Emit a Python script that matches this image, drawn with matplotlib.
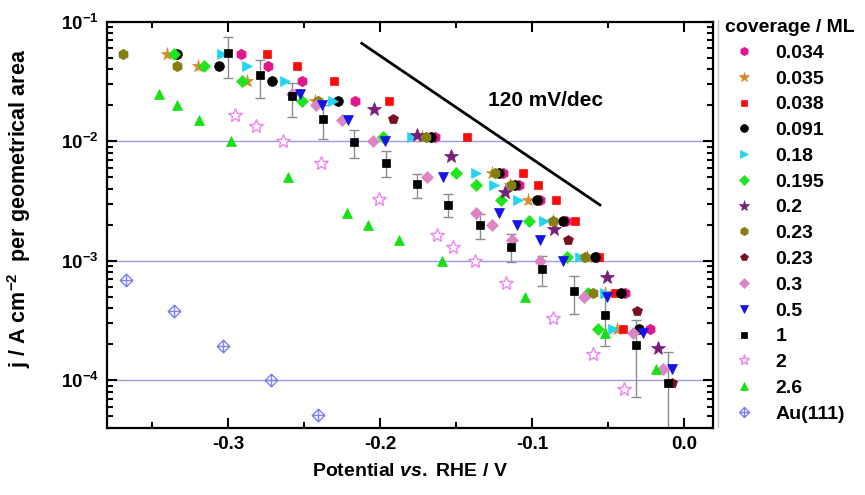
import numpy as np
import matplotlib
matplotlib.use('Agg')
import matplotlib.pyplot as plt
from matplotlib.path import Path
from matplotlib.lines import Line2D
from matplotlib.ticker import FixedLocator, LogLocator, NullFormatter, LogFormatterMathtext

plt.rcParams['font.family'] = ['Liberation Sans', 'DejaVu Sans']
plt.rcParams['font.weight'] = 'bold'
plt.rcParams['mathtext.fontset'] = 'custom'
plt.rcParams['mathtext.rm'] = 'Liberation Sans:bold'
plt.rcParams['mathtext.bf'] = 'Liberation Sans:bold'
plt.rcParams['mathtext.it'] = 'Liberation Sans:italic:bold'
plt.rcParams['mathtext.default'] = 'bf'

# ---------------- data (potential V vs RHE, current density A/cm2) ----------------
v_0034 = [-0.2916, -0.2735, -0.2511, -0.2164, -0.1638, -0.1189, -0.1084, -0.0947, -0.0776, -0.0572, -0.0388, -0.0224]
j_0034 = [0.054, 0.043, 0.032, 0.0216, 0.0108, 0.0054, 0.0043, 0.0032, 0.00216, 0.00108, 0.00054, 0.00027]

v_0035 = [-0.3403, -0.3195, -0.2877, -0.2428, -0.1726, -0.1265, -0.1145, -0.1024, -0.0860, -0.0640, -0.0520, -0.0443]
j_0035 = [0.054, 0.043, 0.032, 0.0216, 0.0108, 0.0054, 0.0043, 0.0032, 0.00216, 0.00108, 0.00054, 0.00027]

v_0038 = [-0.2745, -0.2548, -0.2301, -0.1941, -0.1430, -0.1061, -0.0963, -0.0842, -0.0717, -0.0558, -0.0454, -0.0399]
j_0038 = [0.054, 0.043, 0.032, 0.0216, 0.0108, 0.0054, 0.0043, 0.0032, 0.00216, 0.00108, 0.00054, 0.00027]

v_0091 = [-0.3338, -0.3057, -0.2708, -0.2274, -0.1666, -0.1215, -0.1112, -0.0969, -0.0798, -0.0586, -0.0416, -0.0294]
j_0091 = [0.054, 0.043, 0.032, 0.0216, 0.0108, 0.0054, 0.0043, 0.0032, 0.00216, 0.00108, 0.00054, 0.00027]

v_018 = [-0.3041, -0.2877, -0.2625, -0.2307, -0.1791, -0.1368, -0.1250, -0.1090, -0.0921, -0.0684, -0.0520, -0.0467]
j_018 = [0.054, 0.043, 0.032, 0.0216, 0.0108, 0.0054, 0.0043, 0.0032, 0.00216, 0.00108, 0.00054, 0.00027]

v_0195 = [-0.3355, -0.3158, -0.2910, -0.2515, -0.1978, -0.1502, -0.1368, -0.1204, -0.1018, -0.0768, -0.0630, -0.0564]
j_0195 = [0.054, 0.043, 0.032, 0.0216, 0.0108, 0.0054, 0.0043, 0.0032, 0.00216, 0.00108, 0.00054, 0.00027]

v_02 = [-0.2039, -0.1759, -0.1535, -0.1178, -0.0855, -0.0505, -0.0173]
j_02 = [0.0187, 0.0112, 0.0075, 0.00376, 0.00184, 0.000736, 0.000187]

v_023a = [-0.3689, -0.3338, -0.2405, -0.1700, -0.1243, -0.1135, -0.0862, -0.0651, -0.0597]
j_023a = [0.054, 0.043, 0.0216, 0.0108, 0.0054, 0.0043, 0.00216, 0.00108, 0.00054]

v_023b = [-0.1916, -0.0761, -0.0311, -0.0081]
j_023b = [0.0152, 0.00149, 0.000376, 0.0000939]

v_03 = [-0.2581, -0.2421, -0.2252, -0.2048, -0.1689, -0.1368, -0.1265, -0.1134, -0.0947, -0.0658, -0.0338, -0.0140]
j_03 = [0.025, 0.02, 0.015, 0.01, 0.005, 0.0025, 0.002, 0.0015, 0.001, 0.0005, 0.00025, 0.000125]

v_05 = [-0.2526, -0.2384, -0.2209, -0.1967, -0.1588, -0.1215, -0.1097, -0.0947, -0.0798, -0.0509, -0.0268, -0.0081]
j_05 = [0.025, 0.02, 0.015, 0.01, 0.005, 0.0025, 0.002, 0.0015, 0.001, 0.0005, 0.00025, 0.000125]

v_1 = [-0.2998, -0.2789, -0.2581, -0.2377, -0.2169, -0.1961, -0.1759, -0.1551, -0.1342, -0.1140, -0.0936, -0.0724, -0.0520, -0.0316, -0.0103]
j_1 = [0.0545, 0.0355, 0.0237, 0.0152, 0.0098, 0.00656, 0.00436, 0.00293, 0.00198, 0.00131, 0.00086, 0.000555, 0.000348, 0.000196, 0.000094]
j_1_lo = [0.0337, 0.0232, 0.0158, 0.0104, 0.00726, 0.0050, 0.00337, 0.0023, 0.00152, 0.00097, 0.00061, 0.00036, 0.000192, 0.000072, 0.00001]
j_1_hi = [0.075, 0.048, 0.0306, 0.0202, 0.0124, 0.00826, 0.00534, 0.0036, 0.00245, 0.00167, 0.0011, 0.00075, 0.000544, 0.000316, 0.000172]

v_2 = [-0.2954, -0.2818, -0.2640, -0.2390, -0.2007, -0.1627, -0.1522, -0.1375, -0.1171, -0.0860, -0.0597, -0.0395]
j_2 = [0.0167, 0.0133, 0.0100, 0.00659, 0.00327, 0.00165, 0.00129, 0.00099, 0.000652, 0.000333, 0.000165, 0.000084]

v_26 = [-0.3454, -0.3334, -0.3189, -0.2982, -0.2603, -0.2215, -0.2081, -0.1873, -0.1594, -0.1046, -0.0520, -0.0186]
j_26 = [0.025, 0.02, 0.015, 0.01, 0.005, 0.0025, 0.002, 0.0015, 0.001, 0.0005, 0.00025, 0.000125]

v_au = [-0.3671, -0.3355, -0.3035, -0.2719, -0.2408]
j_au = [0.000695, 0.000376, 0.000193, 0.000100, 0.000051]

labels = ['0.034', '0.035', '0.038', '0.091', '0.18', '0.195', '0.2', '0.23', '0.23',
          '0.3', '0.5', '1', '2', '2.6', 'Au(111)']

slope_line_v = [-0.212, -0.0553]
slope_line_j = [0.0659, 0.00293]
slope_text = '120 mV/dec'
slope_text_pos = (-0.129, 0.022)

x_ticks = [-0.3, -0.2, -0.1, 0.0]
x_ticklabels = ['-0.3', '-0.2', '-0.1', '0.0']
grid_levels = [1e-2, 1e-3, 1e-4]

# ---------------- styling ----------------
au_marker = Path([(0, 1), (1, 0), (0, -1), (-1, 0), (0, 1), (0, 1), (0, -1), (-1, 0), (1, 0)],
                 [Path.MOVETO, Path.LINETO, Path.LINETO, Path.LINETO, Path.CLOSEPOLY,
                  Path.MOVETO, Path.LINETO, Path.MOVETO, Path.LINETO])

series = [
    (v_0034, j_0034, dict(marker='h', color='#E0168A', ms=7.5)),
    (v_0035, j_0035, dict(marker='*', color='#D8892C', ms=9.5)),
    (v_0038, j_0038, dict(marker='s', color='#FF0A0A', ms=6.0)),
    (v_0091, j_0091, dict(marker='o', color='#000000', ms=7.0)),
    (v_018, j_018, dict(marker='>', color='#22D6F2', ms=7.5)),
    (v_0195, j_0195, dict(marker='D', color='#1EE51E', ms=6.0)),
    (v_02, j_02, dict(marker='*', color='#76207A', ms=10.0)),
    (v_023a, j_023a, dict(marker='h', color='#857E12', ms=7.5)),
    (v_023b, j_023b, dict(marker='p', color='#7A0E22', ms=7.5)),
    (v_03, j_03, dict(marker='D', color='#DD84C6', ms=6.0)),
    (v_05, j_05, dict(marker='v', color='#1414E6', ms=7.5)),
    (v_1, j_1, dict(marker='s', color='#000000', ms=6.0)),
    (v_2, j_2, dict(marker='*', color='#EE84EE', ms=10.0, mfc='white', mew=1.0)),
    (v_26, j_26, dict(marker='^', color='#14E014', ms=7.5)),
    (v_au, j_au, dict(marker=au_marker, color='#8080F2', ms=9.0, mfc='none', mew=1.0)),
]

W, H = 865, 495
fig = plt.figure(figsize=(W / 100, H / 100), dpi=100)
ax = fig.add_axes([107 / W, 1 - 428 / H, (713 - 107) / W, (428 - 21.7) / H])

for lvl in grid_levels:
    ax.axhline(lvl, color='#9A9AF0', lw=1.0, zorder=0)

ax.plot(slope_line_v, slope_line_j, color='black', lw=2.0, zorder=1)
ax.text(slope_text_pos[0], slope_text_pos[1], slope_text, fontsize=15, fontweight='bold',
        ha='left', va='center')

ax.errorbar(v_1, j_1, yerr=[np.array(j_1) - np.array(j_1_lo), np.array(j_1_hi) - np.array(j_1)],
            fmt='none', ecolor='#8C8C8C', elinewidth=1.0, capsize=3.5, capthick=1.0, zorder=2)

handles = []
for i, (v, j, st) in enumerate(series):
    st = dict(st)
    color = st.pop('color')
    mfc = st.pop('mfc', color)
    mew = st.pop('mew', 0.5)
    ax.plot(v, j, ls='none', mfc=mfc, mec=color, mew=mew, zorder=3 + i * 0.01, **st)
    handles.append(Line2D([], [], ls='none', mfc=mfc, mec=color, mew=mew,
                          marker=st['marker'], ms=st['ms'] * 0.8))

ax.set_yscale('log')
ax.set_ylim(10 ** -4.4, 0.1)
ax.set_xlim(-0.3796, 0.0191)
ax.xaxis.set_major_locator(FixedLocator(x_ticks))
ax.set_xticklabels(x_ticklabels)
ax.xaxis.set_minor_locator(FixedLocator([-0.35, -0.25, -0.15, -0.05]))
ax.yaxis.set_major_locator(LogLocator(base=10, numticks=10))
ax.yaxis.set_minor_locator(LogLocator(base=10, subs=np.arange(2, 10), numticks=20))
ax.yaxis.set_major_formatter(LogFormatterMathtext())
ax.yaxis.set_minor_formatter(NullFormatter())

ax.tick_params(which='both', direction='in', top=True, right=True, width=1.5)
ax.tick_params(which='major', length=7, labelsize=13.5, pad=6)
ax.tick_params(which='minor', length=4)
for sp in ax.spines.values():
    sp.set_linewidth(1.6)

ax.set_xlabel(r'Potential $\it{vs.}$ RHE / V', fontsize=14, fontweight='bold', labelpad=7)
ax.set_ylabel(r'j / A cm$^{-2}$  per geometrical area', fontsize=15.5, fontweight='bold')
ax.yaxis.set_label_coords((33 - 107) / 606, (428 - 208) / 406.3)

fig.add_artist(Line2D([718 / W, 718 / W], [1 - 20 / H, 1 - 427 / H], color='#C8C8C8', lw=1.0))

leg = fig.legend(handles, labels, loc='upper left', bbox_to_anchor=(725 / W, 1 - 19 / H),
                 frameon=False, title='coverage / ML', alignment='left',
                 prop={'weight': 'bold', 'size': 14},
                 title_fontproperties={'weight': 'bold', 'size': 14},
                 handlelength=2.0, handletextpad=0.6, labelspacing=0.42, borderpad=0.0,
                 borderaxespad=0.0)

fig.savefig('out.png', dpi=100)
